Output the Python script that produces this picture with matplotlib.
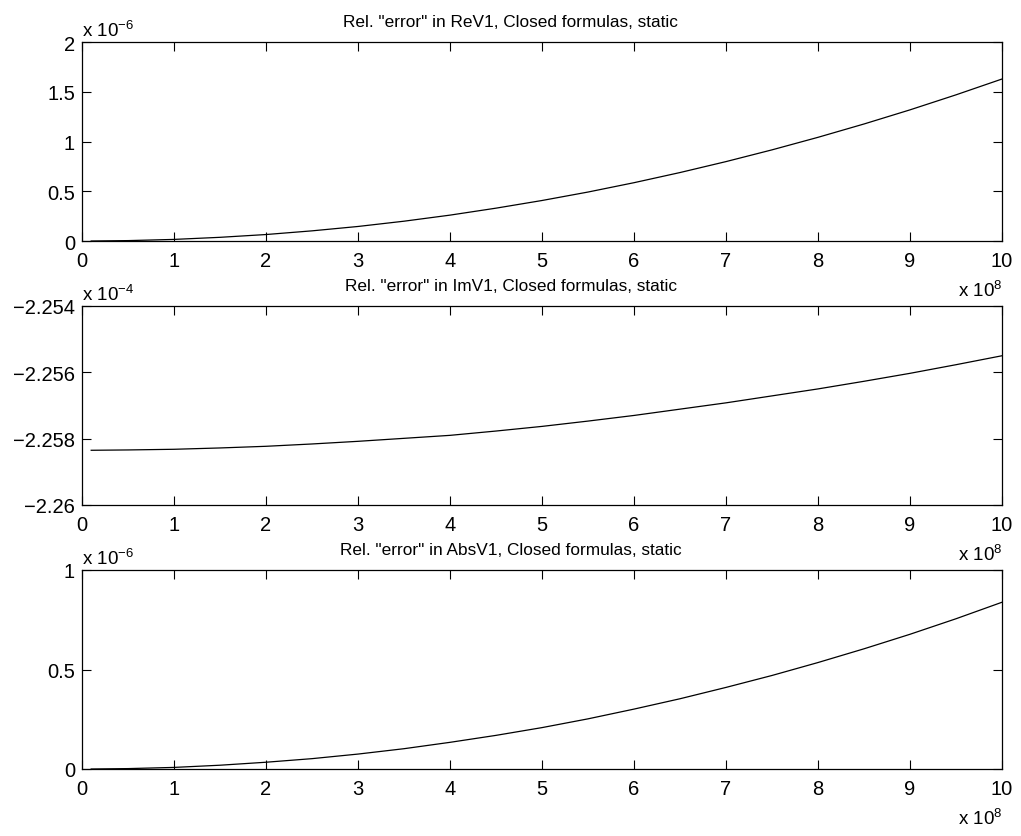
import matplotlib
matplotlib.use("Agg")
import matplotlib.pyplot as plt

plt.rcParams['font.family'] = ['Liberation Sans', 'DejaVu Sans']
plt.rcParams['mathtext.fontset'] = 'custom'
plt.rcParams['mathtext.rm'] = 'Liberation Sans'

# frequency axis, in units of 1e8
freq = [0.1, 0.5, 1, 1.5, 2, 2.5, 3, 3.5, 4, 4.5, 5, 5.5, 6, 6.5, 7, 7.5, 8, 8.5, 9, 9.5, 10]

# relative "error" values
re_err = [0.0, 0.004, 0.016, 0.037, 0.065, 0.102, 0.146, 0.199, 0.260, 0.330, 0.407,
          0.492, 0.586, 0.688, 0.798, 0.916, 1.042, 1.176, 1.318, 1.469, 1.628]          # x 1e-6
im_err = [-2.25835, -2.25834, -2.25832, -2.25828, -2.25823, -2.25816, -2.25808,
          -2.25799, -2.25790, -2.25777, -2.25763, -2.25747, -2.25730, -2.25711,
          -2.25692, -2.25671, -2.25650, -2.25627, -2.25603, -2.25577, -2.25550]          # x 1e-4
abs_err = [0.0, 0.002, 0.008, 0.019, 0.034, 0.052, 0.075, 0.102, 0.134, 0.169, 0.208,
           0.252, 0.301, 0.353, 0.410, 0.470, 0.535, 0.604, 0.677, 0.755, 0.838]         # x 1e-6

titles = ['Rel. "error" in ReV1, Closed formulas, static',
          'Rel. "error" in ImV1, Closed formulas, static',
          'Rel. "error" in AbsV1, Closed formulas, static']
y_exps = ['-6', '-4', '-6']
x_ticks = list(range(11))
y_ticks = [[0, 0.5, 1, 1.5, 2],
           [-2.26, -2.258, -2.256, -2.254],
           [0, 0.5, 1]]
y_labels = [['0', '0.5', '1', '1.5', '2'],
            ['\u22122.26', '\u22122.258', '\u22122.256', '\u22122.254'],
            ['0', '0.5', '1']]
series = [re_err, im_err, abs_err]

W, H = 1021, 837
fig = plt.figure(figsize=(W / 100, H / 100), dpi=100)
tops = [43, 307, 571]
fs = 14.5

for i in range(3):
    top = tops[i]
    ax = fig.add_axes([82 / W, 1 - (top + 199) / H, 920 / W, 199 / H])
    ax.plot(freq, series[i], color='black', lw=0.9)
    ax.set_xlim(0, 10)
    ax.set_ylim(y_ticks[i][0], y_ticks[i][-1])
    ax.set_xticks(x_ticks)
    ax.set_xticklabels([str(t) for t in x_ticks])
    ax.set_yticks(y_ticks[i])
    ax.set_yticklabels(y_labels[i])
    ax.tick_params(direction='in', length=6.5, width=0.8, top=True, right=True,
                   labelsize=fs, pad=5)
    ax.tick_params(axis='x', pad=7)
    for s in ax.spines.values():
        s.set_linewidth(0.9)
    # title sits centred on the figure, not the axes
    fig.text(0.5, 1 - (top - 16) / H, titles[i], fontsize=12.4, ha='center', va='baseline')
    ax.text(0, 1.01, r'x 10$^{\mathregular{' + y_exps[i].replace('-', '\u2212') + '}}$',
            transform=ax.transAxes, fontsize=13.5, ha='left', va='bottom')
    ax.text(1, -0.19, r'x 10$^{\mathregular{8}}$', transform=ax.transAxes,
            fontsize=13.5, ha='right', va='top')

fig.savefig('out.png', dpi=100)
